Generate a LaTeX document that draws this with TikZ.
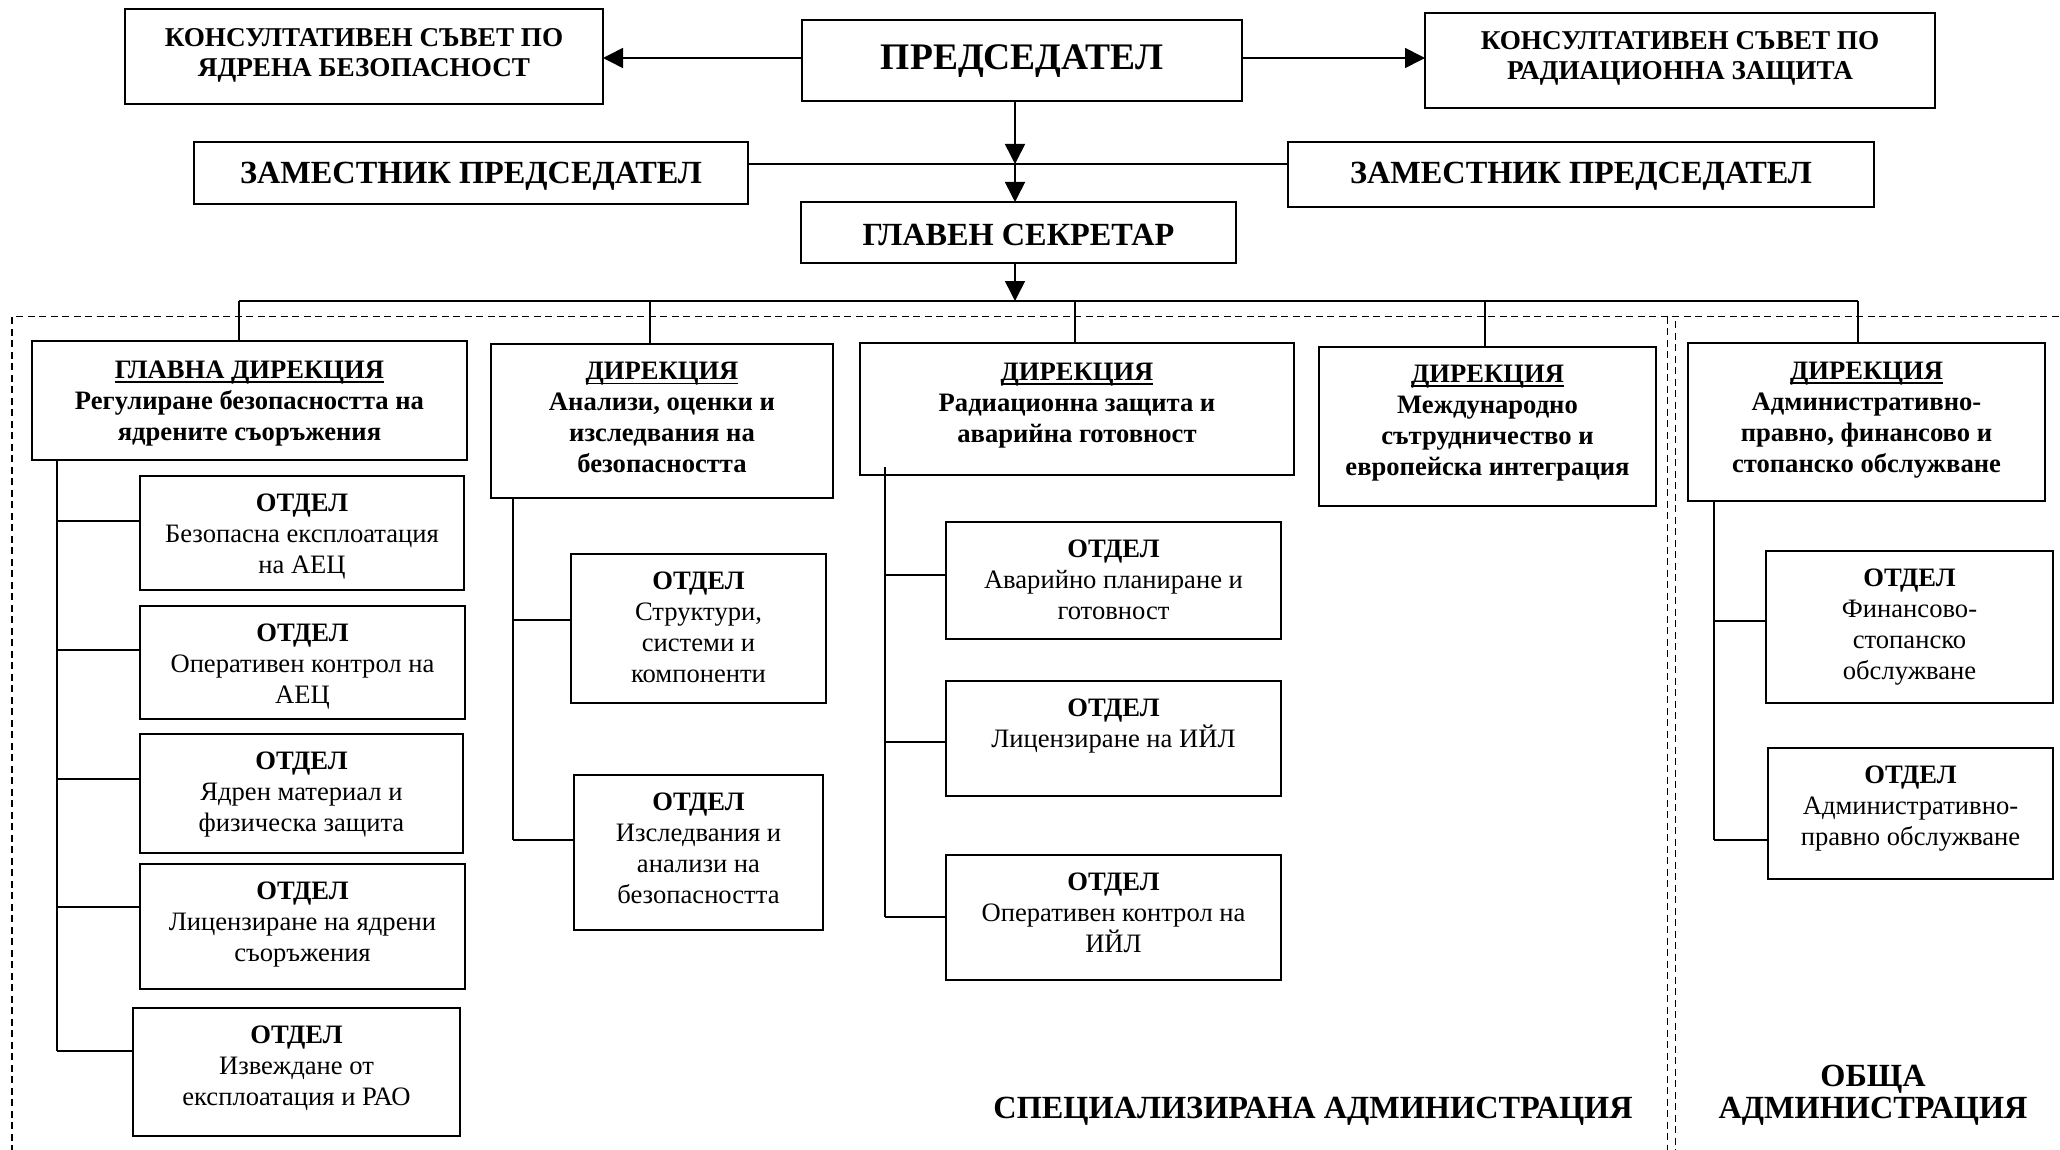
\documentclass[tikz,border=0pt]{standalone}
\usepackage{fontspec}
\setmainfont{Liberation Serif}
\usetikzlibrary{arrows.meta}
\newcommand\myul[1]{\setbox0\hbox{#1}\rlap{\rule[-4.5pt]{\wd0}{1.5pt}}\box0}
% #1 text style, #2 name, #3 x1, #4 y1, #5 x2, #6 y2, #7 first baseline below top, #8 text
\newcommand\bx[8][]{%
  \node[box,minimum width={(#5-#3)*1pt},minimum height={(#6-#4)*1pt}] (#2) at ({(#3+#5)/2},{(#4+#6)/2}) {};
  \node[txt,#1] (#2t) at ({(#3+#5)/2},{#4+#7-30}) {\rule{0pt}{30pt}#8};}
\tikzset{
  box/.style={draw, line width=1.6pt, inner sep=0pt, outer sep=0pt},
  txt/.style={anchor=north, inner sep=0pt, outer sep=0pt, align=center, font=\fontsize{26.6}{31}\selectfont},
  dirbox/.style={font=\fontsize{26.6}{31}\selectfont\bfseries},
  ksbox/.style={font=\fontsize{27.2}{30.5}\selectfont\bfseries},
  bigbox/.style={font=\fontsize{37.5}{42}\selectfont\bfseries},
  midbox/.style={font=\fontsize{32.3}{36}\selectfont\bfseries},
  conn/.style={line width=1.6pt},
  arr/.style={conn, -{Triangle[length=20pt,width=20pt]}},
  dframe/.style={line width=1.9pt, dash pattern=on 7pt off 4.5pt},
  lbl/.style={anchor=north, align=center, inner sep=0pt, font=\fontsize{32.3}{32}\selectfont\bfseries}
}
\begin{document}
\begin{tikzpicture}[x=1pt,y=1pt,yscale=-1]
\useasboundingbox (0,0) rectangle (2060,1150);
% dashed frames
\draw[dframe] (12,1152) -- (12,316.5) -- (2062,316.5);
\draw[dframe] (1667.5,316.5) -- (1667.5,1152);
\draw[dframe] (1675.5,321) -- (1675.5,1152);
% top boxes
\bx[ksbox]{ks1}{125}{9}{603}{104}{37.5}{КОНСУЛТАТИВЕН СЪВЕТ ПО\\ЯДРЕНА БЕЗОПАСНОСТ}
\bx[bigbox]{pred}{802}{20}{1242}{101}{49.5}{ПРЕДСЕДАТЕЛ}
\bx[ksbox]{ks2}{1425}{13}{1935}{108}{36.5}{КОНСУЛТАТИВЕН СЪВЕТ ПО\\РАДИАЦИОННА ЗАЩИТА}
\bx[midbox]{zam1}{194}{142}{748}{204}{42}{ЗАМЕСТНИК ПРЕДСЕДАТЕЛ}
\bx[midbox]{zam2}{1288}{142}{1874}{207}{42}{ЗАМЕСТНИК ПРЕДСЕДАТЕЛ}
\bx[midbox]{gs}{801}{202}{1236}{263}{43.5}{ГЛАВЕН СЕКРЕТАР}
% directorates
\bx[dirbox]{gd}{32}{341}{467}{460}{37}{\myul{ГЛАВНА ДИРЕКЦИЯ}\\Регулиране безопасността на\\ядрените съоръжения}
\bx[dirbox]{d2}{491}{344}{833}{498}{35.5}{\myul{ДИРЕКЦИЯ}\\Анализи, оценки и\\изследвания на\\безопасността}
\bx[dirbox]{d3}{860}{343}{1294}{475}{37}{\myul{ДИРЕКЦИЯ}\\Радиационна защита и\\аварийна готовност}
\bx[dirbox]{d4}{1319}{347}{1656}{506}{35}{\myul{ДИРЕКЦИЯ}\\Международно\\сътрудничество и\\европейска интеграция}
\bx[dirbox]{d5}{1688}{343}{2045}{501}{36}{\myul{ДИРЕКЦИЯ}\\Административно-\\правно, финансово и\\стопанско обслужване}
% offices GD
\bx{o1}{140}{476}{464}{590}{35}{\textbf{ОТДЕЛ}\\Безопасна експлоатация\\на АЕЦ}
\bx{o2}{140}{606}{465}{719}{35}{\textbf{ОТДЕЛ}\\Оперативен контрол на\\АЕЦ}
\bx{o3}{140}{734}{463}{853}{35}{\textbf{ОТДЕЛ}\\Ядрен материал и\\физическа защита}
\bx{o4}{140}{864}{465}{989}{35}{\textbf{ОТДЕЛ}\\Лицензиране на ядрени\\съоръжения}
\bx{o5}{133}{1008}{460}{1136}{35}{\textbf{ОТДЕЛ}\\Извеждане от\\експлоатация и РАО}
% offices d2
\bx{s1}{571}{554}{826}{703}{35}{\textbf{ОТДЕЛ}\\Структури,\\системи и\\компоненти}
\bx{s2}{574}{775}{823}{930}{35}{\textbf{ОТДЕЛ}\\Изследвания и\\анализи на\\безопасността}
% offices d3
\bx{r1}{946}{522}{1281}{639}{35}{\textbf{ОТДЕЛ}\\Аварийно планиране и\\готовност}
\bx{r2}{946}{681}{1281}{796}{35}{\textbf{ОТДЕЛ}\\Лицензиране на ИЙЛ}
\bx{r3}{946}{855}{1281}{980}{35}{\textbf{ОТДЕЛ}\\Оперативен контрол на\\ИЙЛ}
% offices d5
\bx{a1}{1766}{551}{2053}{703}{35}{\textbf{ОТДЕЛ}\\Финансово-\\стопанско\\обслужване}
\bx{a2}{1768}{748}{2053}{879}{35.5}{\textbf{ОТДЕЛ}\\Административно-\\правно обслужване}
% top connectors
\coordinate (ya) at (0,58);
\draw[arr] (pred.west |- ya) -- (ks1.east |- ya);
\draw[arr] (pred.east |- ya) -- (ks2.west |- ya);
\coordinate (zj) at (1015,164);
\draw[arr] (pred.south -| zj) -- (zj);
\draw[arr] (zj) -- (zj |- gs.north);
\draw[conn] (zam1.east |- zj) -- (zam2.west |- zj);
\coordinate (bus) at (1015,301);
\draw[arr] (gs.south -| bus) -- (bus);
\coordinate (b1) at (239,301);
\coordinate (b2) at (650,301);
\coordinate (b3) at (1075,301);
\coordinate (b4) at (1485,301);
\coordinate (b5) at (1858,301);
\draw[conn] (b1) -- (b5);
\draw[conn] (b1) -- (b1 |- gd.north);
\draw[conn] (b2) -- (b2 |- d2.north);
\draw[conn] (b3) -- (b3 |- d3.north);
\draw[conn] (b4) -- (b4 |- d4.north);
\draw[conn] (b5) -- (b5 |- d5.north);
% GD trunk
\coordinate (g1) at (57,521);
\coordinate (g2) at (57,650);
\coordinate (g3) at (57,779);
\coordinate (g4) at (57,907);
\coordinate (g5) at (57,1051);
\draw[conn] (gd.south -| g1) -- (g5);
\foreach \i in {1,...,5}{\draw[conn] (g\i) -- (o\i.west |- g\i);}
% d2 trunk
\coordinate (h1) at (513,620);
\coordinate (h2) at (513,840);
\draw[conn] (d2.south -| h1) -- (h2);
\draw[conn] (h1) -- (s1.west |- h1);
\draw[conn] (h2) -- (s2.west |- h2);
% d3 trunk
\coordinate (k0) at (885,467);
\coordinate (k1) at (885,575);
\coordinate (k2) at (885,742);
\coordinate (k3) at (885,917);
\draw[conn] (k0) -- (k3);
\draw[conn] (k1) -- (r1.west |- k1);
\draw[conn] (k2) -- (r2.west |- k2);
\draw[conn] (k3) -- (r3.west |- k3);
% d5 trunk
\coordinate (m1) at (1714,621);
\coordinate (m2) at (1714,840);
\draw[conn] (d5.south -| m1) -- (m2);
\draw[conn] (m1) -- (a1.west |- m1);
\draw[conn] (m2) -- (a2.west |- m2);
% labels
\node[lbl] (spec) at (1313,1088) {\rule{0pt}{30pt}СПЕЦИАЛИЗИРАНА АДМИНИСТРАЦИЯ};
\node[lbl] (obsh) at (1873,1056) {\rule{0pt}{30pt}ОБЩА\\АДМИНИСТРАЦИЯ};
\end{tikzpicture}
\end{document}
